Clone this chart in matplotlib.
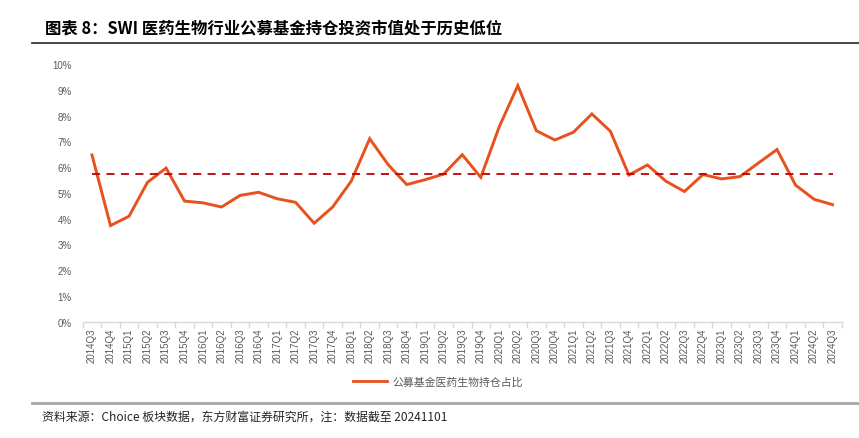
import numpy as np
import matplotlib
matplotlib.use("Agg")
import matplotlib.pyplot as plt
from matplotlib.lines import Line2D

plt.rcParams['font.family'] = ['Liberation Sans', 'Noto Sans CJK SC', 'DejaVu Sans']

# 季度标签
quarters = ['2014Q3', '2014Q4',
            '2015Q1', '2015Q2', '2015Q3', '2015Q4',
            '2016Q1', '2016Q2', '2016Q3', '2016Q4',
            '2017Q1', '2017Q2', '2017Q3', '2017Q4',
            '2018Q1', '2018Q2', '2018Q3', '2018Q4',
            '2019Q1', '2019Q2', '2019Q3', '2019Q4',
            '2020Q1', '2020Q2', '2020Q3', '2020Q4',
            '2021Q1', '2021Q2', '2021Q3', '2021Q4',
            '2022Q1', '2022Q2', '2022Q3', '2022Q4',
            '2023Q1', '2023Q2', '2023Q3', '2023Q4',
            '2024Q1', '2024Q2', '2024Q3']

# 公募基金医药生物持仓占比 (%)
share = [6.47, 3.73,
         4.09, 5.41, 5.96, 4.68,
         4.61, 4.45, 4.90, 5.02,
         4.77, 4.63, 3.82, 4.45,
         5.45, 7.10, 6.09, 5.32,
         5.51, 5.73, 6.48, 5.60,
         7.57, 9.16, 7.41, 7.05,
         7.35, 8.06, 7.39, 5.69,
         6.08, 5.45, 5.05, 5.71,
         5.54, 5.63, 6.16, 6.68,
         5.30, 4.75, 4.54]

series_name = '公募基金医药生物持仓占比'
title = '图表 8：SWI 医药生物行业公募基金持仓投资市值处于历史低位'
source = '资料来源：Choice 板块数据，东方财富证券研究所，注：数据截至 20241101'

x = np.arange(len(quarters))
avg = np.mean(share)

fig = plt.figure(figsize=(8.59, 4.39), dpi=100)
ax = fig.add_axes([0.0963, 0.265, 0.8837, 0.587])

ax.plot(x, share, color='#E8511E', lw=2.1, solid_joinstyle='miter')
ax.plot([x[0], x[-1]], [avg, avg], color='#C00000', lw=1.3, ls=(0, (4.5, 3.5)))

ax.set_xlim(-0.5, len(quarters) - 0.5)
ax.set_ylim(0, 10)
ax.set_yticks(range(0, 11))
ax.set_yticklabels(['%d%%' % v for v in range(0, 11)])
ax.set_xticks(x)
ax.set_xticklabels(quarters, rotation=90)
ax.set_xticks(np.arange(-0.5, len(quarters)), minor=True)

for s in ['top', 'right', 'left']:
    ax.spines[s].set_visible(False)
ax.spines['bottom'].set_color('#D9D9D9')
ax.spines['bottom'].set_linewidth(1.0)

ax.tick_params(axis='y', length=0, labelsize=7, labelcolor='#595959', pad=8)
ax.tick_params(axis='x', which='major', length=0, labelsize=7, labelcolor='#595959', pad=4)
ax.tick_params(axis='x', which='minor', length=4, color='#D9D9D9', width=1.0)

# 图例
leg_handle = Line2D([], [], color='#E8511E', lw=2.0)
leg = fig.legend([leg_handle], [series_name], loc='center', bbox_to_anchor=(0.51, 0.128),
                 frameon=False, fontsize=7.8, handlelength=3.2, handletextpad=0.5)
for t in leg.get_texts():
    t.set_color('#595959')

# 标题与底部说明
fig.text(0.052, 0.934, title, fontsize=11.8, fontweight='bold', va='center', ha='left',
         family=['Noto Sans CJK SC', 'DejaVu Sans'])
fig.add_artist(Line2D([0.037, 1.0], [0.900, 0.900], color='#262626', lw=1.2))
fig.add_artist(Line2D([0.037, 1.0], [0.079, 0.079], color='#A6A6A6', lw=2.0))
fig.text(0.049, 0.050, source, fontsize=8.6, va='center', ha='left', color='#262626',
         family=['Noto Sans CJK SC', 'DejaVu Sans'])

fig.savefig('out.png', dpi=100)
